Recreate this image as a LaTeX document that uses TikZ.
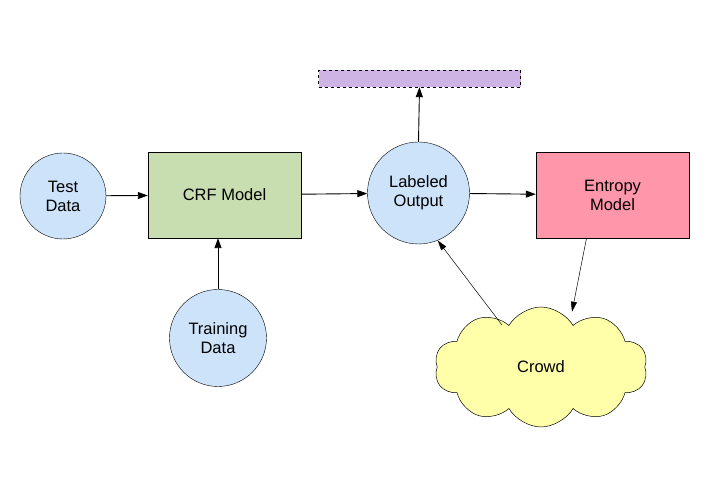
\documentclass[tikz,border=0pt]{standalone}
\usepackage{fontspec}
\setmainfont{Liberation Sans}
\usepackage{xcolor}
\definecolor{datablue}{RGB}{205,227,250}
\definecolor{crfgreen}{RGB}{200,221,176}
\definecolor{entpink}{RGB}{255,150,170}
\definecolor{outpurple}{RGB}{205,180,228}
\definecolor{crowdyellow}{RGB}{255,255,170}
\usepackage{tikz}
\usetikzlibrary{calc,positioning,shapes.symbols,arrows.meta}

\begin{document}
\begin{tikzpicture}[x=1pt,y=1pt,
        datanode/.style={circle,draw,fill=datablue,align=center,inner sep=0pt},
        modelbox/.style={rectangle,draw,minimum width=153pt,minimum height=86pt,align=center},
        flow/.style={-{Triangle[length=10pt,width=7pt]},line width=0.9pt},
        thinflow/.style={-{Triangle[length=10pt,width=6pt]},line width=0.5pt}]
        \fontsize{16.5}{19}\selectfont
        % Canvas
        \useasboundingbox (0,0) rectangle (715,482);
        % Parameters
        \def\midy{287}
        % Data nodes
        \node[datanode,minimum size=86pt] (test) at (63,286) {Test\\Data};
        \node[datanode,minimum size=97pt] (train) at (218,144) {Training\\Data};
        \node[datanode,minimum size=102pt] (lab) at (418.5,289) {Labeled\\Output};
        % Models
        \node[modelbox,fill=crfgreen] (crf) at (224.5,\midy) {CRF Model};
        \node[modelbox,fill=entpink] (ent) at (612.5,\midy) {Entropy\\Model};
        % Output bar
        \node[rectangle,draw,dashed,fill=outpurple,minimum width=202pt,minimum height=17pt] (bar) at (419.5,403.5) {};
        % Crowd
        \node[cloud,draw,fill=crowdyellow,cloud puffs=10,cloud puff arc=120,aspect=1.8,
              minimum width=213pt,minimum height=120pt,inner sep=0pt,line width=0.5pt] (crowd) at (541,115) {Crowd};
        % Arrows
        \draw[flow] (test) -- (crf);
        \draw[flow] (crf) -- (lab);
        \draw[flow] (lab) -- (ent);
        \draw[flow] (lab.north) -- (bar.south);
        \draw[flow] (train.north) -- (train.north |- crf.south);
        \draw[thinflow] ([xshift=-26pt]ent.south) -- ([xshift=31pt,yshift=-5pt]crowd.north);
        \draw[thinflow] ([xshift=-39pt,yshift=42pt]crowd.center) -- (lab.-68);
    \end{tikzpicture}
\end{document}
